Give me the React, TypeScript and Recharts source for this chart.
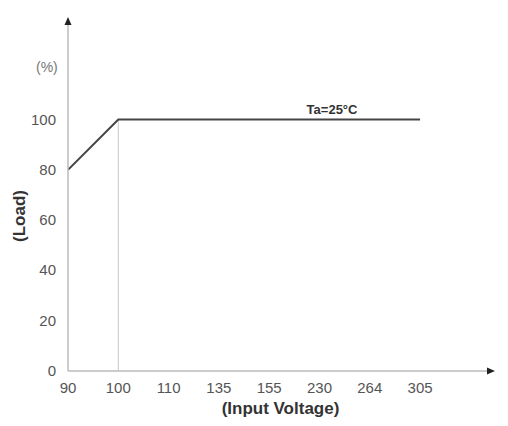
import React from 'react';
import { LineChart, Line, XAxis, YAxis, ReferenceLine, ReferenceDot } from 'recharts';

const voltages = ['90', '100', '110', '135', '155', '230', '264', '305'];
const load = [80, 100, 100, 100, 100, 100, 100, 100];
const loadTicks = [0, 20, 40, 60, 80, 100];

const data = voltages.map((v, i) => ({ idx: i, voltage: v, load: load[i] }));

const X_MAX = 8.45;
const Y_MAX = 140;
const font = 'Arial, "Liberation Sans", sans-serif';

const ArrowRight = (props: any) => (
  <polygon points={`${props.cx + 2},${props.cy} ${props.cx - 6},${props.cy - 3.5} ${props.cx - 6},${props.cy + 3.5}`} fill="#222" />
);
const ArrowUp = (props: any) => (
  <polygon points={`${props.cx},${props.cy - 2} ${props.cx - 3.5},${props.cy + 6} ${props.cx + 3.5},${props.cy + 6}`} fill="#222" />
);

const XTick = (props: any) => (
  <text x={props.x} y={props.y + 14} textAnchor="middle" fill="#555" fontSize={15} fontFamily={font}>
    {voltages[props.payload.value]}
  </text>
);
const YTick = (props: any) => (
  <text x={props.x} y={props.y + 5} textAnchor="end" fill="#555" fontSize={15} fontFamily={font}>
    {props.payload.value}
  </text>
);

const App: React.FC = () => {
  return (
    <div style={{ position: 'absolute', left: 0, top: 0, width: 508, height: 426, background: '#fff', fontFamily: font }}>
      <LineChart width={508} height={426} data={data} margin={{ top: 19, right: 15, bottom: 25, left: 0 }}>
        <XAxis
          dataKey="idx"
          type="number"
          domain={[0, X_MAX]}
          ticks={[0, 1, 2, 3, 4, 5, 6, 7]}
          allowDataOverflow
          tickLine={false}
          axisLine={{ stroke: '#bbb', strokeWidth: 1.5 }}
          tickMargin={2}
          tick={<XTick />}
          height={30}
          label={{ value: '(Input Voltage)', position: 'insideBottom', offset: -13, fill: '#333', fontSize: 17, fontWeight: 'bold', fontFamily: font }}
        />
        <YAxis
          type="number"
          domain={[0, Y_MAX]}
          ticks={loadTicks}
          allowDataOverflow
          width={68}
          tickLine={false}
          axisLine={{ stroke: '#bbb', strokeWidth: 1.5 }}
          tickMargin={6}
          tick={<YTick />}
        />
        <ReferenceLine segment={[{ x: 1, y: 0 }, { x: 1, y: 100 }]} stroke="#c8c8c8" strokeWidth={1} />
        <Line dataKey="load" stroke="#444" strokeWidth={2} dot={false} isAnimationActive={false} />
        <ReferenceDot x={X_MAX} y={0} r={0} shape={ArrowRight} />
        <ReferenceDot x={0} y={Y_MAX} r={0} shape={ArrowUp} />
        <ReferenceDot
          x={5.25}
          y={100}
          r={0}
          fill="none"
          stroke="none"
          label={{ value: 'Ta=25°C', position: 'top', offset: 6, fill: '#333', fontSize: 13, fontWeight: 'bold', fontFamily: font }}
        />
      </LineChart>
      <div style={{ position: 'absolute', left: 36, top: 59, fontSize: 14, color: '#777' }}>(%)</div>
      <div
        style={{
          position: 'absolute',
          left: 20,
          top: 216,
          transform: 'translate(-50%, -50%) rotate(-90deg)',
          fontSize: 17,
          fontWeight: 'bold',
          color: '#333',
          whiteSpace: 'nowrap',
        }}
      >
        (Load)
      </div>
    </div>
  );
};

export default App;
